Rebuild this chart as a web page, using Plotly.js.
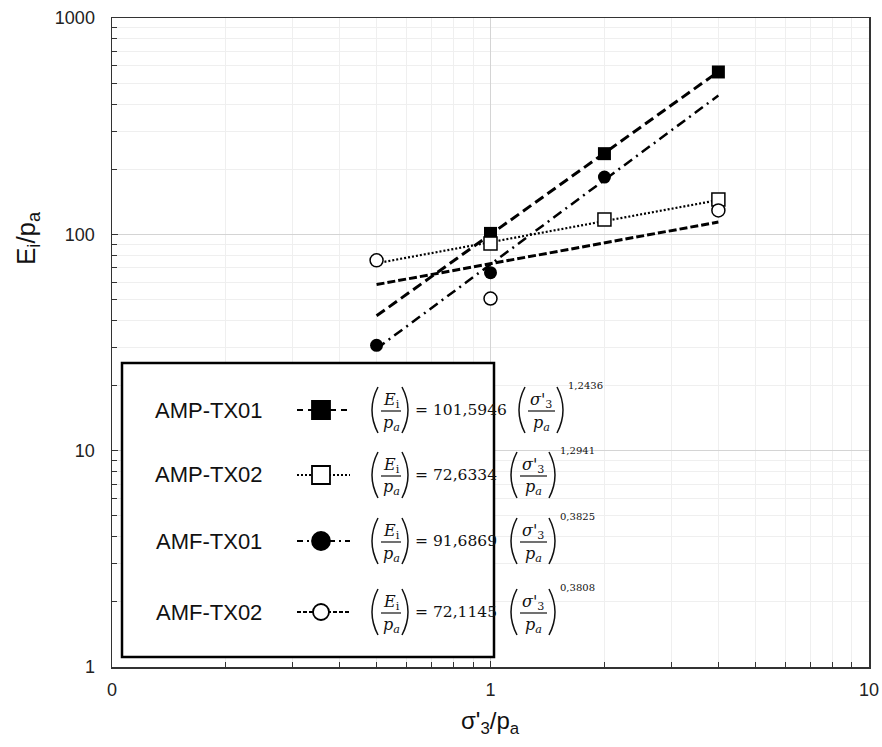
<!DOCTYPE html>
<html>
<head>
<meta charset="utf-8">
<script src="https://cdn.plot.ly/plotly-3.0.1.min.js"></script>
<style>html,body{margin:0;padding:0;background:#fff;}#chart{width:882px;height:747px;}</style>
</head>
<body>
<div id="chart"></div>
<script>
// ---- data ----
const confining = [0.5, 1, 2, 4];               // sigma'3 / pa
const ampTx01 = [null, 101, 236, 563];         // filled squares
const ampTx02 = [null, 90.6, 117, 145];        // open squares
const amfTx01 = [30.7, 66.5, 184, null];       // filled circles
const amfTx02 = [75.8, 50.5, null, 129];       // open circles

// trend lines (end points)
const trendX = [0.5, 4];
const trendDash = [42, 565];       // through filled squares
const trendDashDot = [29.6, 438];  // through filled circles
const trendDot = [73.5, 144];      // through open squares
const trendShortDash = [58.6, 114];// through open circles

// legend content
const seriesNames = ['AMP-TX01', 'AMP-TX02', 'AMF-TX01', 'AMF-TX02'];
const coefficients = ['101,5946', '72,6334', '91,6869', '72,1145'];
const exponents = ['1,2436', '1,2941', '0,3825', '0,3808'];

const xTickVals = [0.1, 1, 10];
const xTickText = ['0', '1', '10'];
const yTickVals = [1, 10, 100, 1000];
const yTickText = ['1', '10', '100', '1000'];

// ---- layout geometry ----
const L = 112, R = 869, T = 18, B = 667;
const W = R - L, H = B - T;
const X = p => (p - L) / W;
const Y = p => (B - p) / H;

const traces = [
  {x: trendX, y: trendDash, mode: 'lines', line: {color: '#000', width: 3, dash: '10px,5px'}, hoverinfo: 'skip'},
  {x: trendX, y: trendDashDot, mode: 'lines', line: {color: '#000', width: 2.5, dash: '10px,5px,2px,5px'}, hoverinfo: 'skip'},
  {x: trendX, y: trendDot, mode: 'lines', line: {color: '#000', width: 2.2, dash: '2px,2px'}, hoverinfo: 'skip'},
  {x: trendX, y: trendShortDash, mode: 'lines', line: {color: '#000', width: 3, dash: '8px,3px'}, hoverinfo: 'skip'},
  {x: confining, y: ampTx01, mode: 'markers', marker: {symbol: 'square', size: 13, color: '#000'}},
  {x: confining, y: ampTx02, mode: 'markers', marker: {symbol: 'square', size: 13, color: '#fff', line: {color: '#000', width: 1.5}}},
  {x: confining, y: amfTx01, mode: 'markers', marker: {symbol: 'circle', size: 13, color: '#000'}},
  {x: confining, y: amfTx02, mode: 'markers', marker: {symbol: 'circle', size: 13, color: '#fff', line: {color: '#000', width: 1.5}}}
];

const shapes = [];
const annotations = [];

// legend box
shapes.push({type: 'rect', xref: 'paper', yref: 'paper', x0: X(122), x1: X(494), y0: Y(363), y1: Y(657),
  line: {color: '#000', width: 2.5}, fillcolor: '#fff', layer: 'above'});

const rowY = [410, 475, 541, 612];
const groupX = [517, 509, 509, 509];
const sampleDash = ['6px,5px', '2px,2px', '6px,4px,2px,4px', '4px,2px'];
const eqFont = {family: 'DejaVu Serif', size: 16, color: '#111'};
const numFont = {family: 'DejaVu Serif', size: 15.5, color: '#111'};

function paren(x0, yc, left) {
  const xm = left ? x0 - 12 : x0 + 12;
  return {type: 'path', xref: 'paper', yref: 'paper', layer: 'above',
    path: `M ${X(x0)} ${Y(yc - 23)} Q ${X(xm)} ${Y(yc)} ${X(x0)} ${Y(yc + 23)}`,
    line: {color: '#111', width: 1.5}};
}
function bar(x0, x1, y) {
  return {type: 'line', xref: 'paper', yref: 'paper', layer: 'above',
    x0: X(x0), x1: X(x1), y0: Y(y), y1: Y(y), line: {color: '#111', width: 1.2}};
}
function ann(text, x, y, font, xanchor) {
  return {text: text, xref: 'paper', yref: 'paper', x: X(x), y: Y(y), showarrow: false,
    xanchor: xanchor || 'center', yanchor: 'middle', font: font, borderpad: 0};
}

seriesNames.forEach((name, i) => {
  const yc = rowY[i];
  annotations.push(ann(name, 209, yc, {family: 'Liberation Sans, Arial', size: 22, color: '#111'}));
  // sample line
  shapes.push({type: 'line', xref: 'paper', yref: 'paper', layer: 'above', x0: X(297), x1: X(350), y0: Y(yc), y1: Y(yc),
    line: {color: '#000', width: 2, dash: sampleDash[i]}});
  // sample marker
  const filled = (i === 0 || i === 2);
  const s = {xref: 'paper', yref: 'paper', layer: 'above', x0: X(312), x1: X(330), y0: Y(yc + 9), y1: Y(yc - 9),
    fillcolor: filled ? '#000' : '#fff', line: {color: '#000', width: 1.8}};
  s.type = (i < 2) ? 'rect' : 'circle';
  if (i === 3) { s.x0 = X(313); s.x1 = X(329); s.y0 = Y(yc + 8); s.y1 = Y(yc - 8); }
  shapes.push(s);
  // equation: (Ei/pa) = C (s'3/pa)^n
  shapes.push(paren(378, yc, true));
  shapes.push(paren(402, yc, false));
  shapes.push(bar(381, 401, yc + 1));
  annotations.push(ann('<i>E</i><sub>i</sub>', 391, yc - 10, eqFont));
  annotations.push(ann('<i>p</i><sub><i>a</i></sub>', 391, yc + 13, eqFont));
  annotations.push(ann('= ' + coefficients[i], 414, yc, numFont, 'left'));
  const g = groupX[i];
  shapes.push(paren(g + 8, yc, true));
  shapes.push(paren(g + 40, yc, false));
  shapes.push(bar(g + 11, g + 38, yc + 1));
  annotations.push(ann('<i>σ\'</i><sub>3</sub>', g + 24, yc - 10, eqFont));
  annotations.push(ann('<i>p</i><sub><i>a</i></sub>', g + 24, yc + 13, eqFont));
  annotations.push(ann(exponents[i], g + 50, yc - 25, {family: 'DejaVu Serif', size: 10, color: '#111'}, 'left'));
});

// axis titles
annotations.push(ann('E<sub>i</sub>/p<sub>a</sub>', 27, 238, {family: 'Liberation Sans, Arial', size: 26, color: '#111'}));
annotations[annotations.length - 1].textangle = -90;
annotations.push(ann('σ\'<sub>3</sub>/p<sub>a</sub>', 490, 722, {family: 'Liberation Sans, Arial', size: 24, color: '#111'}));

const axisCommon = {
  type: 'log', showline: true, linecolor: '#333', linewidth: 1.5, mirror: true,
  showgrid: true, gridcolor: '#d4d4d4', gridwidth: 1, zeroline: false,
  ticks: 'inside', ticklen: 6, tickcolor: '#333',
  tickfont: {family: 'Liberation Sans, Arial', size: 18, color: '#222'},
  minor: {dtick: 'D1', showgrid: true, gridcolor: '#efefef', ticks: 'inside', ticklen: 5, tickcolor: '#333'}
};

const layout = {
  width: 882, height: 747,
  margin: {l: L, r: 882 - R, t: T, b: 747 - B},
  paper_bgcolor: '#fff', plot_bgcolor: '#fff',
  showlegend: false,
  xaxis: Object.assign({}, axisCommon, {range: [-1, 1], tickmode: 'array', tickvals: xTickVals, ticktext: xTickText, ticklabelstandoff: 6}),
  yaxis: Object.assign({}, axisCommon, {range: [0, 3], tickmode: 'array', tickvals: yTickVals, ticktext: yTickText, ticklabelstandoff: 12}),
  shapes: shapes,
  annotations: annotations
};

Plotly.newPlot('chart', traces, layout, {displayModeBar: false, staticPlot: true});
</script>
</body>
</html>
